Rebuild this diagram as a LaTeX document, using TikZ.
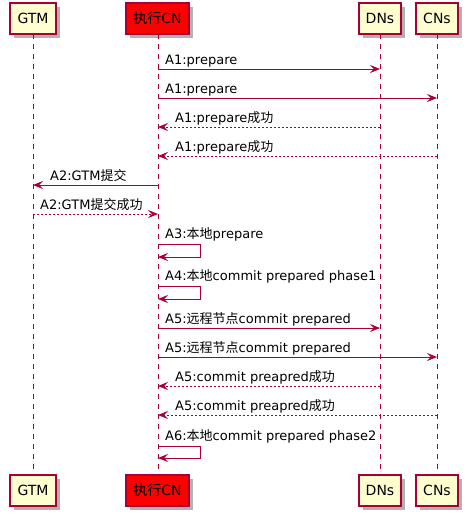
\documentclass[tikz,border=0pt]{standalone}
\usepackage{fontspec}
\setmainfont{DejaVu Sans}
\newfontfamily\cjk{Noto Sans CJK SC}
\usetikzlibrary{arrows.meta,shadows}
\definecolor{pborder}{HTML}{A80036}
\definecolor{pfill}{HTML}{FEFECE}
\begin{document}
\begin{tikzpicture}[x=1pt,y=-1pt,
  every node/.style={font=\fontsize{13}{15}\selectfont},
  part/.style={draw=pborder, line width=1.1pt, fill=pfill, minimum height=31pt,
    inner sep=0pt, anchor=center, font=\fontsize{14}{16}\selectfont,
    drop shadow={shadow xshift=3.5pt,shadow yshift=-3.5pt,opacity=0.3,fill=black}},
  life/.style={draw=pborder, line width=0.9pt, dash pattern=on 5pt off 5pt},
  msg/.style={draw=pborder, line width=0.9pt, -{Stealth[length=10pt,width=8pt,inset=4pt]}},
  reply/.style={msg, dash pattern=on 2pt off 2pt},
  lbl/.style={anchor=base west, inner sep=0pt}]
\useasboundingbox (0,0) rectangle (466,515);
% participants
\node[part, minimum width=46pt] (gtmT) at (33,18.5) {GTM};
\node[part, minimum width=63pt, fill=red] (cnT) at (157.5,18.5) {{\cjk 执行}CN};
\node[part, minimum width=42pt] (dnT) at (380,18.5) {DNs};
\node[part, minimum width=42pt] (cnsT) at (437,18.5) {CNs};
\node[part, minimum width=46pt] (gtmB) at (33,490.5) {GTM};
\node[part, minimum width=63pt, fill=red] (cnB) at (157.5,490.5) {{\cjk 执行}CN};
\node[part, minimum width=42pt] (dnB) at (380,490.5) {DNs};
\node[part, minimum width=42pt] (cnsB) at (437,490.5) {CNs};
% lifelines
\coordinate (gL1) at (33,34); \coordinate (gL2) at (33,475);
\coordinate (cL1) at (158,34); \coordinate (cL2) at (158,475);
\coordinate (dL1) at (380,34); \coordinate (dL2) at (380,475);
\coordinate (sL1) at (437,34); \coordinate (sL2) at (437,475);
\draw[life] (gL1) -- (gL2);
\draw[life] (cL1) -- (cL2);
\draw[life] (dL1) -- (dL2);
\draw[life] (sL1) -- (sL2);
% messages
\coordinate (c1) at (158,69);  \coordinate (d1) at (380,69);
\draw[msg] (c1) -- (d1);
\node[lbl] (l1) at (165,64.5) {A1:prepare};
\coordinate (c2) at (158,98);  \coordinate (s2) at (437,98);
\draw[msg] (c2) -- (s2);
\node[lbl] (l2) at (165,93.5) {A1:prepare};
\coordinate (c3) at (158,127); \coordinate (d3) at (380,127);
\draw[reply] (d3) -- (c3);
\node[lbl] (l3) at (175,122.5) {A1:prepare{\cjk 成功}};
\coordinate (c4) at (158,156); \coordinate (s4) at (437,156);
\draw[reply] (s4) -- (c4);
\node[lbl] (l4) at (175,151.5) {A1:prepare{\cjk 成功}};
\coordinate (c5) at (158,185); \coordinate (g5) at (33,185);
\draw[msg] (c5) -- (g5);
\node[lbl] (l5) at (50,180.5) {A2:GTM{\cjk 提交}};
\coordinate (c6) at (158,214); \coordinate (g6) at (33,214);
\draw[reply] (g6) -- (c6);
\node[lbl] (l6) at (40,209.5) {A2:GTM{\cjk 提交成功}};
\coordinate (c7a) at (158,244); \coordinate (c7b) at (158,257);
\draw[msg] (c7a) -- ++(42,0) |- (c7b);
\node[lbl] (l7) at (165,238.5) {A3:{\cjk 本地}prepare};
\coordinate (c8a) at (158,286); \coordinate (c8b) at (158,299);
\draw[msg] (c8a) -- ++(42,0) |- (c8b);
\node[lbl] (l8) at (165,280.5) {A4:{\cjk 本地}commit prepared phase1};
\coordinate (c9) at (158,328); \coordinate (d9) at (380,328);
\draw[msg] (c9) -- (d9);
\node[lbl] (l9) at (165,323.5) {A5:{\cjk 远程节点}commit prepared};
\coordinate (c10) at (158,357); \coordinate (s10) at (437,357);
\draw[msg] (c10) -- (s10);
\node[lbl] (l10) at (165,352.5) {A5:{\cjk 远程节点}commit prepared};
\coordinate (c11) at (158,386); \coordinate (d11) at (380,386);
\draw[reply] (d11) -- (c11);
\node[lbl] (l11) at (175,381.5) {A5:commit preapred{\cjk 成功}};
\coordinate (c12) at (158,415); \coordinate (s12) at (437,415);
\draw[reply] (s12) -- (c12);
\node[lbl] (l12) at (175,410.5) {A5:commit preapred{\cjk 成功}};
\coordinate (c13a) at (158,446); \coordinate (c13b) at (158,458);
\draw[msg] (c13a) -- ++(42,0) |- (c13b);
\node[lbl] (l13) at (165,440.5) {A6:{\cjk 本地}commit prepared phase2};
\end{tikzpicture}
\end{document}
